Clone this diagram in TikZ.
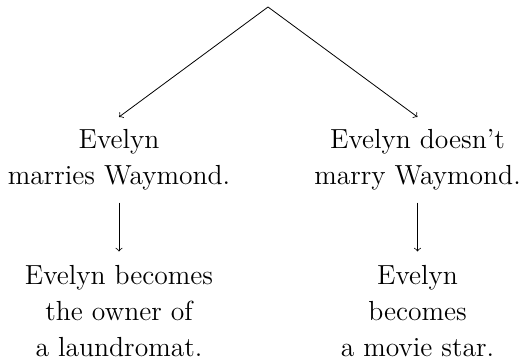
\documentclass[tikz,border=0pt]{standalone}
\begin{document}
\begin{tikzpicture}[x=0.5pt,y=-0.5pt,
  txt/.style={align=center,anchor=north,inner sep=0pt,font=\fontsize{13.8}{18}\selectfont},
  arr/.style={->,line width=0.4pt}]
\useasboundingbox (0,0) rectangle (530,357);
\coordinate (apex) at (268,7);
\node[txt] (L1) at (119,129) {Evelyn\\marries Waymond.};
\node[txt] (R1) at (417.5,129) {Evelyn doesn't\\marry Waymond.};
\node[txt] (L2) at (119,264.5) {Evelyn becomes\\the owner of\\a laundromat.};
\node[txt] (R2) at (417.5,264.5) {Evelyn\\becomes\\a movie star.};
\draw[arr] (apex) -- ([yshift=6pt]L1.north);
\draw[arr] (apex) -- ([yshift=6pt]R1.north);
\draw[arr] ([yshift=-6pt]L1.south) -- ([yshift=6.5pt]L2.north);
\draw[arr] ([yshift=-6pt]R1.south) -- ([yshift=6.5pt]R2.north);
\end{tikzpicture}
\end{document}
